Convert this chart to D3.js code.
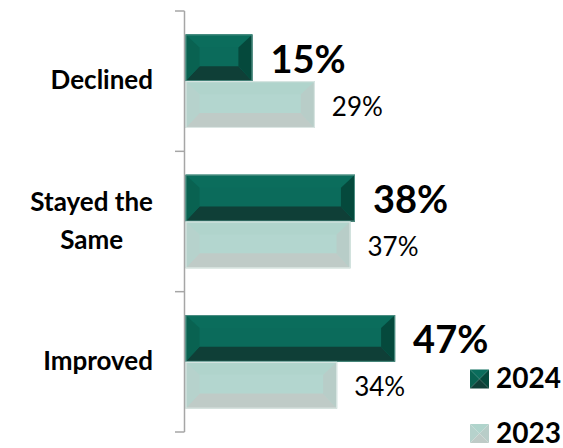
<!DOCTYPE html>
<html>
<head>
<meta charset="utf-8">
<script src="https://cdn.jsdelivr.net/npm/d3@7"></script>
<style>
  html, body { margin: 0; padding: 0; background: #fff; }
  svg { display: block; font-family: Lato, "Open Sans", sans-serif; }
</style>
</head>
<body>
<svg id="chart" width="563" height="448"></svg>
<script>
// Share of respondents by outcome, two survey years
const categories = ["Declined", "Stayed the Same", "Improved"];
const categoryLines = [["Declined"], ["Stayed the", "Same"], ["Improved"]];
const seriesNames = ["2024", "2023"];
const values2024 = [15, 38, 47];
const values2023 = [29, 37, 34];
const valueLabels2024 = ["15%", "38%", "47%"];
const valueLabels2023 = ["29%", "37%", "34%"];

// bevel palette per series: face, top, left, right, bottom, edge
const palettes = {
  "2024": { face: "#0b6b5b", top: "#0b6d5c", left: "#096251", right: "#05493c", bottom: "#0f3f37", edge: "#4f8f84" },
  "2023": { face: "#b3d6cf", top: "#b0d4cc", left: "#b6d2cc", right: "#b8cdc8", bottom: "#bfcbc7", edge: "#dde8e5" }
};

const svg = d3.select("#chart");

const y = d3.scaleBand().domain(categories).range([11, 432]).paddingInner(0).paddingOuter(0);
const ySub = d3.scaleBand().domain(seriesNames).range([0, y.bandwidth()]).paddingInner(0).paddingOuter(0.5);
const x = d3.scaleLinear().domain([0, 50]).range([185.5, 408.5]);

const rows = categories.map((c, i) => ({
  cat: c,
  lines: categoryLines[i],
  bars: [
    { s: "2024", v: values2024[i], label: valueLabels2024[i] },
    { s: "2023", v: values2023[i], label: valueLabels2023[i] }
  ]
}));

// beveled bar: flat face with four trapezoid edges
function bevelBar(g, x0, y0, w, h, pal) {
  const x1 = x0 + w, y1 = y0 + h;
  const bs = Math.min(14, w / 2), bt = 13, bb = 15;
  g.append("rect").attr("x", x0).attr("y", y0).attr("width", w).attr("height", h).attr("fill", pal.face);
  const poly = (pts, fill) => g.append("polygon").attr("points", pts.map(p => p.join(",")).join(" ")).attr("fill", fill);
  poly([[x0, y0], [x1, y0], [x1 - bs, y0 + bt], [x0 + bs, y0 + bt]], pal.top);
  poly([[x0, y1], [x1, y1], [x1 - bs, y1 - bb], [x0 + bs, y1 - bb]], pal.bottom);
  poly([[x0, y0], [x0 + bs, y0 + bt], [x0 + bs, y1 - bb], [x0, y1]], pal.left);
  poly([[x1, y0], [x1 - bs, y0 + bt], [x1 - bs, y1 - bb], [x1, y1]], pal.right);
  g.append("rect").attr("x", x0 + 0.5).attr("y", y0 + 0.5).attr("width", w - 1).attr("height", h - 1)
    .attr("fill", "none").attr("stroke", pal.edge).attr("stroke-width", 1);
}

const barsG = svg.append("g");
rows.forEach(r => {
  r.bars.forEach(b => {
    const y0 = y(r.cat) + ySub(b.s);
    const h = ySub.bandwidth();
    const g = barsG.append("g");
    bevelBar(g, x(0), y0, x(b.v) - x(0), h, palettes[b.s]);
    const is24 = b.s === "2024";
    barsG.append("text")
      .attr("x", x(b.v) + (is24 ? 18 : 17))
      .attr("y", y0 + h / 2 + (is24 ? 15 : 11))
      .attr("font-size", is24 ? 38 : 26)
      .attr("font-weight", is24 ? 700 : 400)
      .attr("fill", "#000")
      .text(b.label);
  });
});

// axis: vertical line with ticks at band boundaries
const axisG = svg.append("g").attr("stroke", "#a6a6a6").attr("stroke-width", 1.5);
axisG.append("line").attr("x1", 184.5).attr("x2", 184.5).attr("y1", y.range()[0]).attr("y2", y.range()[1]);
const boundaries = categories.map(c => y(c)).concat([y.range()[1]]);
axisG.selectAll("line.tick").data(boundaries).join("line").attr("class", "tick")
  .attr("x1", 175).attr("x2", 184.5).attr("y1", d => d).attr("y2", d => d);

// category labels
const catFont = 26;
const catG = svg.append("g");
rows.forEach(r => {
  const cy = y(r.cat) + y.bandwidth() / 2;
  const lh = 38;
  const n = r.lines.length;
  const t = catG.append("text")
    .attr("font-size", catFont).attr("font-weight", 700).attr("fill", "#000")
    .attr("text-anchor", "middle");
  // widest line decides the centre so the block is right-aligned at 153
  const tmp = catG.append("text").attr("font-size", catFont).attr("font-weight", 700).text(r.lines[0]);
  const wMax = d3.max(r.lines, l => { tmp.text(l); return tmp.node().getComputedTextLength(); });
  tmp.remove();
  const cx = 153 - wMax / 2;
  r.lines.forEach((l, i) => {
    t.append("tspan").attr("x", cx).attr("y", cy + 8 + (i - (n - 1) / 2) * lh).text(l);
  });
});

// legend with pyramid-shaded swatches
const legend = svg.append("g");
const legendY = { "2024": 369.5, "2023": 424 };
seriesNames.forEach(s => {
  const pal = palettes[s];
  const x0 = 470, y0 = legendY[s], sz = 19, cx = x0 + sz / 2, cy = y0 + sz / 2;
  const tri = (pts, fill) => legend.append("polygon").attr("points", pts.map(p => p.join(",")).join(" ")).attr("fill", fill);
  tri([[x0, y0], [x0 + sz, y0], [cx, cy]], pal.top);
  tri([[x0, y0], [x0, y0 + sz], [cx, cy]], pal.left);
  tri([[x0 + sz, y0], [x0 + sz, y0 + sz], [cx, cy]], pal.right);
  tri([[x0, y0 + sz], [x0 + sz, y0 + sz], [cx, cy]], pal.bottom);
  legend.append("text").attr("x", 496).attr("y", y0 + sz - 0.5)
    .attr("font-size", 28).attr("font-weight", 700).attr("fill", "#000").text(s);
});
</script>
</body>
</html>
